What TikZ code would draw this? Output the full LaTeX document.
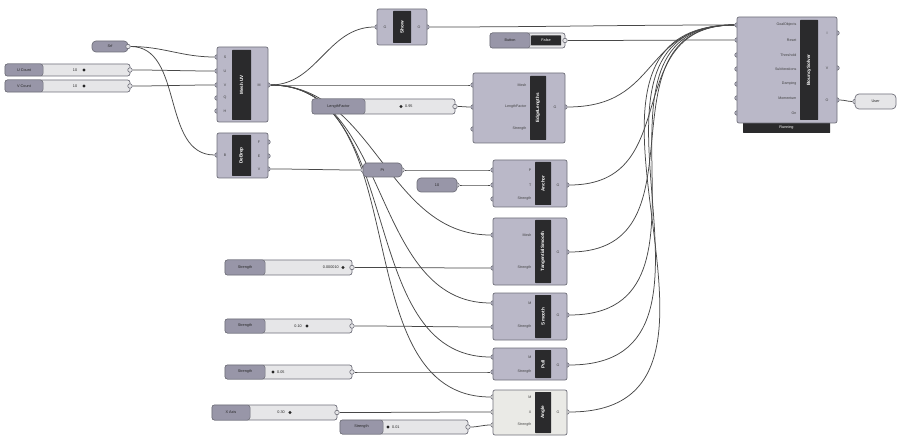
\documentclass[tikz,border=0pt]{standalone}
\usepackage{fontspec}
\setmainfont{Liberation Sans}
\usetikzlibrary{fit,backgrounds}
\definecolor{cfill}{RGB}{186,184,200}
\definecolor{cborder}{RGB}{112,112,122}
\definecolor{cbar}{RGB}{42,42,44}
\definecolor{cslab}{RGB}{152,150,168}
\definecolor{cval}{RGB}{230,230,232}
\definecolor{cwire}{RGB}{72,72,72}
\definecolor{cwhite}{RGB}{234,234,230}
\tikzset{
  comp/.style={draw=cborder, fill=cfill, rounded corners=2pt, line width=0.7pt, inner sep=0pt},
  wcomp/.style={comp, fill=cwhite},
  bar/.style={fill=cbar, inner sep=0pt, draw=none, rounded corners=0.5pt},
  port/.style={circle, inner sep=0pt, minimum size=4.5pt, draw=cborder, fill=cfill, line width=0.6pt},
  wport/.style={port, fill=cwhite},
  sport/.style={port, fill=cval},
  wire/.style={draw=cwire, line width=0.75pt},
  solw/.style={wire, looseness=1.3},
  plab/.style={font=\fontsize{3.6}{4}\selectfont, text=black!75, inner sep=0.5pt},
  vname/.style={font=\fontsize{4.6}{5}\selectfont\bfseries, text=white, inner sep=0pt, rotate=90},
  sbody/.style={draw=cborder, fill=cval, rounded corners=2.5pt, line width=0.7pt, inner sep=0pt},
  slabel/.style={draw=cborder, fill=cslab, rounded corners=2.5pt, line width=0.5pt, inner sep=0pt},
  stext/.style={font=\fontsize{3.8}{4}\selectfont, text=black!85, inner sep=0pt},
  grip/.style={circle, fill=black!85, inner sep=0pt, minimum size=3.2pt},
  param/.style={draw=cborder, fill=cslab, rounded corners=4pt, line width=0.7pt, inner sep=0pt},
}
\newcommand\gport[4][port]{\node[#1] (#2) at ({#3},{#4}) {};}
\newcommand\gslider[7]{%
  \node[sbody, fit={(#2,#3)(#4,#5)}] (#1) {};
  \node[slabel, fit={(#2,#3)(#6,#5)}] (#1-l) {};
  \node[stext] at (#1-l.center) {#7};
  \gport[sport]{#1-o}{#4}{(#3+#5)/2}
}
\begin{document}
\begin{tikzpicture}[x=1pt, y=-1pt]
\useasboundingbox (0,0) rectangle (899,446);

% ---------- inputs at left ----------
\node[param, fit={(92,41)(128,52)}] (srf) {};
\node[stext] at (srf.center) {Srf};
\gport[sport]{srf-o}{128}{46.5}

\gslider{uc}{5}{64}{130}{76}{43}{U Count}
\node[stext] at (75,70) {10}; \node[grip] (uc-g) at (84,70) {};
\gslider{vc}{5}{80}{130}{92}{43}{V Count}
\node[stext] at (75,86) {10}; \node[grip] (vc-g) at (84,86) {};

% ---------- Mesh UV ----------
\gport{muv-i1}{217}{57}\gport{muv-i2}{217}{71}\gport{muv-i3}{217}{85}
\gport{muv-i4}{217}{98}\gport{muv-i5}{217}{111}\gport{muv-o}{268}{85}
\node[comp, fit={(217,47)(268,122)}] (muv) {};
\node[bar, fit={(232,50)(251,120)}] (muv-b) {};
\node[vname] at (muv-b.center) {Mesh UV};
\foreach \t/\yy in {S/57,U/71,V/85,Q/98,H/111} \node[plab] at (225,\yy) {\t};
\node[plab] at (259,85) {M};

% ---------- DeBrep ----------
\gport{deb-i}{217}{155}
\gport{deb-o1}{268}{142}\gport{deb-o2}{268}{156}\gport{deb-o3}{268}{169}
\node[comp, fit={(217,133)(268,178)}] (deb) {};
\node[bar, fit={(232,135)(251,176)}] (deb-b) {};
\node[vname] at (deb-b.center) {DeBrep};
\node[plab] at (225,155) {B};
\foreach \t/\yy in {F/142,E/156,V/169} \node[plab] at (259,\yy) {\t};

% ---------- Pt param ----------
\gport[sport]{pt-i}{363}{170}\gport[sport]{pt-o}{402}{170}
\node[param, fit={(363,163)(402,177)}] (pt) {};
\node[stext] at (pt.center) {Pt};

% ---------- Show ----------
\gport{show-i}{377}{27}\gport{show-o}{427}{27}
\node[comp, fit={(377,9)(427,45)}] (show) {};
\node[bar, fit={(393,11)(411,43)}] (show-b) {};
\node[vname] at (show-b.center) {Show};
\node[plab] at (385,27) {G};
\node[plab] at (419,27) {O};

% ---------- Toggle ----------
\node[sbody, fit={(490,33)(565,48)}] (tog) {};
\node[slabel, fit={(490,33)(530,48)}] (tog-l) {};
\node[stext] at (tog-l.center) {Button};
\node[bar, fit={(531,35.5)(561,45.5)}] (tog-v) {};
\node[stext, text=white] at (tog-v.center) {False};
\gport[sport]{tog-o}{565}{40.5}

% ---------- EdgeLengths ----------
\gport{el-i1}{473}{85}\gport{el-i2}{473}{107}\gport{el-i3}{473}{129}\gport{el-o}{565}{107}
\node[comp, fit={(473,73)(565,143)}] (el) {};
\node[bar, fit={(530,76)(546,140)}] (el-b) {};
\node[vname] at (el-b.center) {EdgeLengths};
\node[plab, anchor=east] at (527,85) {Mesh};
\node[plab, anchor=east] at (527,107) {LengthFactor};
\node[plab, anchor=east] at (527,129) {Strength};
\node[plab] at (555,107) {G};

\gslider{lf}{312}{99}{455}{114}{365}{LengthFactor}
\node[grip] (lf-g) at (401,106.5) {}; \node[stext, anchor=west] at (405,106.5) {0.95};

% ---------- Anchor ----------
\gport{an-i1}{493}{170}\gport{an-i2}{493}{185}\gport{an-i3}{493}{199}\gport{an-o}{567}{185}
\node[comp, fit={(493,160)(567,207)}] (an) {};
\node[bar, fit={(535,162)(551,205)}] (an-b) {};
\node[vname] at (an-b.center) {Anchor};
\node[plab, anchor=east] at (532,170) {P};
\node[plab, anchor=east] at (532,185) {T};
\node[plab, anchor=east] at (532,199) {Strength};
\node[plab] at (558,185) {G};

\gport[sport]{ten-o}{457}{185}
\node[param, fit={(417,178)(457,192)}] (ten) {};
\node[stext] at (ten.center) {10};

% ---------- TangentialSmooth ----------
\gport{ts-i1}{493}{235}\gport{ts-i2}{493}{268}\gport{ts-o}{567}{252}
\node[comp, fit={(493,218)(567,285)}] (ts) {};
\node[bar, fit={(535,220)(551,283)}] (ts-b) {};
\node[vname] at (ts-b.center) {TangentialSmooth};
\node[plab, anchor=east] at (532,235) {Mesh};
\node[plab, anchor=east] at (532,268) {Strength};
\node[plab] at (558,252) {G};

\gslider{s1}{225}{260}{352}{275}{265}{Strength}
\node[stext, anchor=east] at (339,267.5) {0.000010}; \node[grip] (s1-g) at (343,267.5) {};

% ---------- Smooth ----------
\gport{sm-i1}{493}{303}\gport{sm-i2}{493}{327}\gport{sm-o}{567}{315}
\node[comp, fit={(493,293)(567,340)}] (sm) {};
\node[bar, fit={(535,295)(551,338)}] (sm-b) {};
\node[vname] at (sm-b.center) {Smooth};
\node[plab, anchor=east] at (532,303) {M};
\node[plab, anchor=east] at (532,327) {Strength};
\node[plab] at (558,315) {G};

\gslider{s2}{225}{319}{352}{333}{265}{Strength}
\node[stext, anchor=east] at (302,326) {0.10}; \node[grip] (s2-g) at (307,326) {};

% ---------- Pull ----------
\gport{pl-i1}{493}{357}\gport{pl-i2}{493}{372}\gport{pl-o}{567}{365}
\node[comp, fit={(493,348)(567,380)}] (pl) {};
\node[bar, fit={(535,350)(551,378)}] (pl-b) {};
\node[vname] at (pl-b.center) {Pull};
\node[plab, anchor=east] at (532,357) {M};
\node[plab, anchor=east] at (532,372) {Strength};
\node[plab] at (558,365) {G};

\gslider{s3}{225}{365}{352}{379}{265}{Strength}
\node[grip] (s3-g) at (273,372) {}; \node[stext, anchor=west] at (277,372) {0.05};

% ---------- Angle (white) ----------
\gport[wport]{ag-i1}{493}{397}\gport[wport]{ag-i2}{493}{412}\gport[wport]{ag-i3}{493}{425}\gport[wport]{ag-o}{567}{412}
\node[wcomp, fit={(493,390)(567,435)}] (ag) {};
\node[bar, fit={(535,392)(551,433)}] (ag-b) {};
\node[vname] at (ag-b.center) {Angle};
\node[plab, anchor=east] at (532,397) {M};
\node[plab, anchor=east] at (532,412) {X};
\node[plab, anchor=east] at (532,425) {Strength};
\node[plab] at (558,412) {G};

\gslider{xa}{212}{405}{337}{420}{250}{X Axis}
\node[stext, anchor=east] at (285,412.5) {0.30}; \node[grip] (xa-g) at (290,412.5) {};
\gslider{s4}{340}{420}{468}{434}{383}{Strength}
\node[grip] (s4-g) at (388,427) {}; \node[stext, anchor=west] at (392,427) {0.01};

% ---------- BouncySolver ----------
\foreach \k/\yy in {1/25,2/40,3/55,4/69,5/84,6/98,7/113} {\gport{sol-i\k}{737}{\yy}}
\gport{sol-o1}{837}{33}\gport{sol-o2}{837}{68}\gport{sol-o3}{837}{100}
\node[bar, fit={(743,118)(830,133)}] (sol-run) {};
\node[stext, text=white] at ([yshift=-2.5pt]sol-run.center) {Running};
\node[comp, fit={(737,17)(837,123)}] (sol) {};
\node[bar, fit={(800,20)(818,120)}] (sol-b) {};
\node[vname] at (sol-b.center) {BouncySolver};
\foreach \t/\yy in {GoalObjects/25,Reset/40,Threshold/55,SubIterations/69,Damping/84,Momentum/98,On/113}
  \node[plab, anchor=east] at (797,\yy) {\t};
\foreach \t/\yy in {I/33,V/68,O/100} \node[plab] at (827,\yy) {\t};

% ---------- output panel ----------
\gport[sport]{usr-i}{855}{101.5}
\node[draw=cborder, fill=cval, rounded corners=4pt, line width=0.7pt, inner sep=0pt, fit={(855,94)(896,109)}] (usr) {};
\node[stext] at (usr.center) {User};

% ---------- wires ----------
\begin{scope}[on background layer]
  \fill[white] (0,0) rectangle (899,446);
  \draw[wire] (srf-o) to[out=0,in=180] (muv-i1);
  \draw[wire] (srf-o) to[out=0,in=180] (deb-i);
  \draw[wire] (uc-o) to[out=0,in=180] (muv-i2);
  \draw[wire] (vc-o) to[out=0,in=180] (muv-i3);
  \draw[wire] (muv-o) to[out=0,in=180] (show-i);
  \draw[wire] (muv-o) to[out=0,in=180] (el-i1);
  \draw[wire] (muv-o) to[out=0,in=180] (ts-i1);
  \draw[wire] (muv-o) to[out=0,in=180] (sm-i1);
  \draw[wire] (muv-o) to[out=0,in=180] (pl-i1);
  \draw[wire] (muv-o) to[out=0,in=180] (ag-i1);
  \draw[wire] (deb-o3) to[out=0,in=180] (pt-i);
  \draw[wire] (pt-o) to[out=0,in=180] (an-i1);
  \draw[wire] (ten-o) to[out=0,in=180] (an-i2);
  \draw[wire] (lf-o) to[out=0,in=180] (el-i2);
  \draw[wire] (s1-o) to[out=0,in=180] (ts-i2);
  \draw[wire] (s2-o) to[out=0,in=180] (sm-i2);
  \draw[wire] (s3-o) to[out=0,in=180] (pl-i2);
  \draw[wire] (xa-o) to[out=0,in=180] (ag-i2);
  \draw[wire] (s4-o) to[out=0,in=180] (ag-i3);
  \draw[wire] (show-o) to[out=0,in=180] (sol-i1);
  \draw[wire] (tog-o) to[out=0,in=180] (sol-i2);
  \draw[solw] (el-o) to[out=0,in=180] (sol-i1);
  \draw[solw] (an-o) to[out=0,in=180] (sol-i1);
  \draw[solw] (ts-o) to[out=0,in=180] (sol-i1);
  \draw[solw] (sm-o) to[out=0,in=180] (sol-i1);
  \draw[solw] (pl-o) to[out=0,in=180] (sol-i1);
  \draw[solw] (ag-o) to[out=0,in=180] (sol-i1);
  \draw[wire] (sol-o3) to[out=0,in=180] (usr-i);
\end{scope}
\end{tikzpicture}
\end{document}
